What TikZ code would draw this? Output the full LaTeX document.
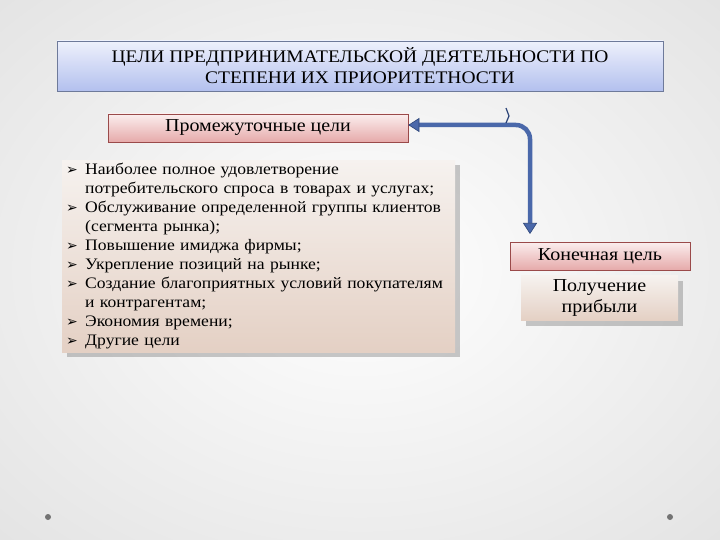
\documentclass[tikz,border=0pt]{standalone}
\usepackage{fontspec}
\setmainfont[FakeStretch=1.1]{Liberation Serif}
\newfontfamily\dejavu{DejaVu Sans}
\usetikzlibrary{arrows.meta,shadows}
\definecolor{titletop}{HTML}{EEF1FC}
\definecolor{titlebot}{HTML}{B3C0EE}
\definecolor{titleborder}{HTML}{6E7A9A}
\definecolor{pinktop}{HTML}{FBEEEE}
\definecolor{pinkbot}{HTML}{E6AAAA}
\definecolor{pinkborder}{HTML}{9A4A4A}
\definecolor{beigetop}{HTML}{F6F2EF}
\definecolor{beigebot}{HTML}{E4D0C4}
\definecolor{arrowblue}{HTML}{4A68AA}
\definecolor{arrowdark}{HTML}{2C4478}
\newcommand{\bul}{\makebox[19pt][l]{\dejavu\fontsize{14}{19}\selectfont ➢}}
\newcommand{\ind}{\hspace*{19pt}}
\begin{document}
\begin{tikzpicture}[x=1pt,y=-1pt,
  titlebox/.style={draw=titleborder, line width=0.6pt, top color=titletop, bottom color=titlebot, inner sep=0pt, align=center, font=\fontsize{17.7}{21}\selectfont},
  pinkbox/.style={draw=pinkborder, line width=0.6pt, top color=pinktop, bottom color=pinkbot, inner sep=0pt, align=center, font=\fontsize{18.2}{21}\selectfont},
  beigebox/.style={top color=beigetop, bottom color=beigebot, inner sep=0pt, drop shadow={shadow xshift=5pt, shadow yshift=-5pt, opacity=0.35, fill=black!60}},
  conn/.style={line width=4.5pt, color=arrowblue, rounded corners=14pt, {Triangle[width=14pt,length=11pt,fill=arrowblue,color=arrowdark,line width=0.6pt]}-{Triangle[width=14pt,length=11pt,fill=arrowblue,color=arrowdark,line width=0.6pt]}},
  dot/.style={circle, fill=black!55, inner sep=0pt, minimum size=6pt}
]
\useasboundingbox (0,0) rectangle (720,540);
\begin{scope}
  \clip (0,0) rectangle (720,540);
  \shade[inner color=white, outer color=black!15] (-360,-270) rectangle (1080,810);
\end{scope}

\node[titlebox, minimum width=606pt, minimum height=50pt] (title) at (360,66)
  {ЦЕЛИ ПРЕДПРИНИМАТЕЛЬСКОЙ ДЕЯТЕЛЬНОСТИ ПО\\СТЕПЕНИ ИХ ПРИОРИТЕТНОСТИ};

\node[pinkbox, minimum width=300pt, minimum height=28pt] (inter) at (258,128) {Промежуточные цели};

\node[beigebox, anchor=north west, minimum width=393pt, minimum height=192pt, text width=385pt, inner xsep=4pt, align=left, font=\fontsize{16}{19}\selectfont] (list) at (62,160)
  {\bul Наиболее полное удовлетворение\\
   \ind потребительского спроса в товарах и услугах;\\
   \bul Обслуживание определенной группы клиентов\\
   \ind (сегмента рынка);\\
   \bul Повышение имиджа фирмы;\\
   \bul Укрепление позиций на рынке;\\
   \bul Создание благоприятных условий покупателям\\
   \ind и контрагентам;\\
   \bul Экономия времени;\\
   \bul Другие цели};

\node[pinkbox, minimum width=180pt, minimum height=28pt] (final) at (600,256) {Конечная цель};

\node[beigebox, minimum width=157pt, minimum height=45pt, align=center, font=\fontsize{18.2}{21}\selectfont] (profit) at (599.5,298) {Получение\\прибыли};

\coordinate (tipdown) at (530,234);
\draw[conn] ([yshift=3pt]inter.east) -- (530,125) -- (tipdown);
\draw[arrowdark, line width=1.2pt] (506,108) -- (509,116) -- (506,123);

\node[dot] (dl) at (48,517) {};
\node[dot] (dr) at (670,517) {};
\end{tikzpicture}
\end{document}
